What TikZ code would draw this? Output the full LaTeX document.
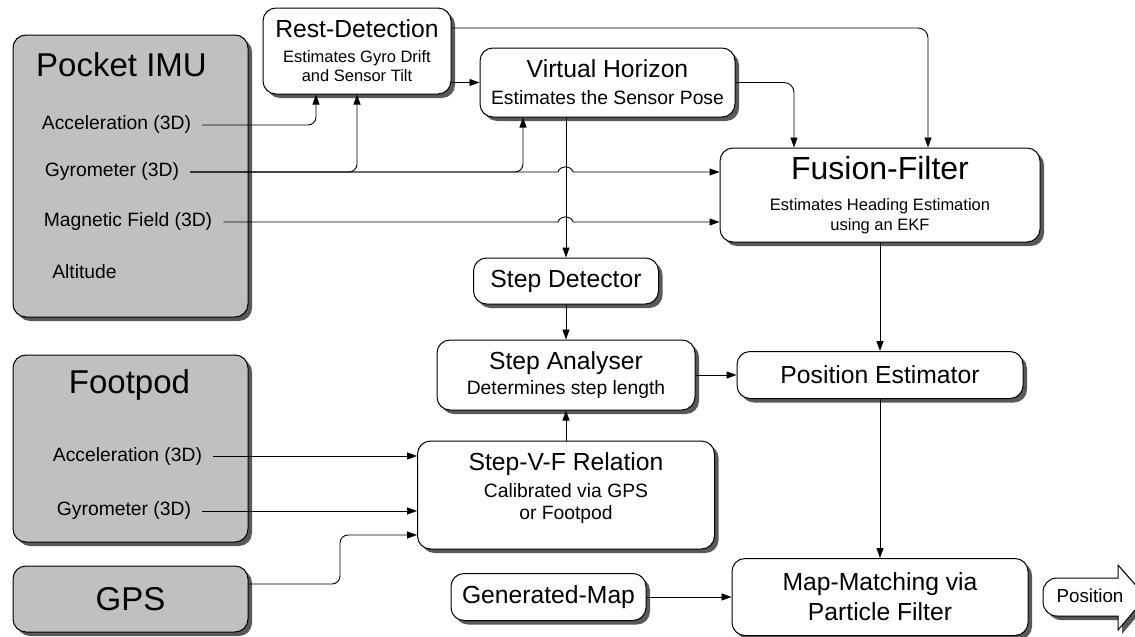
\documentclass[tikz,border=0pt]{standalone}
\usepackage{fontspec}
\setmainfont{Liberation Sans}
\usetikzlibrary{arrows.meta, shadows}

\definecolor{devgray}{RGB}{192,192,192}
\newcommand\fbig{\fontsize{33}{38}\selectfont}
\newcommand\ftitle{\fontsize{24.7}{27}\selectfont}
\newcommand\fsub{\fontsize{19.3}{22}\selectfont}
\newcommand\fsmall{\fontsize{16.5}{19}\selectfont}

\tikzset{
  blk/.style={draw, line width=1pt, rounded corners=13pt, fill=white, align=center, inner sep=0pt,
    drop shadow={shadow xshift=4pt, shadow yshift=-4pt, fill=black!65, opacity=1}},
  dev/.style={blk, fill=devgray},
  lbl/.style={inner xsep=11pt, inner ysep=0pt, font=\fsub},
  arr/.style={-{Triangle[length=10pt,width=7pt]}, line width=0.9pt},
}

\begin{document}
\begin{tikzpicture}[x=1pt, y=-1pt]
\useasboundingbox (0,0) rectangle (1135,637);

% sensors
\node[dev, minimum width=235pt, minimum height=282pt] (imu) at (130.5,176) {};
\node[font=\fbig, inner sep=0pt] (imut) at (121.5,65) {Pocket IMU};
\node[lbl] (a1) at (116.5,125) {Acceleration (3D)};
\node[lbl] (g1) at (112,172) {Gyrometer (3D)};
\node[lbl] (m1) at (128,222) {Magnetic Field (3D)};
\node[lbl] (al) at (84.5,272) {Altitude};

\node[dev, minimum width=235pt, minimum height=187pt] (fp) at (130.5,448.5) {};
\node[font=\fbig, inner sep=0pt] (fpt) at (129.5,385) {Footpod};
\node[lbl] (a2) at (127.5,456) {Acceleration (3D)};
\node[lbl] (g2) at (124,511) {Gyrometer (3D)};

\node[dev, minimum width=235pt, minimum height=66pt, font=\fbig] (gps) at (130.5,599) {GPS};

% processing blocks
\node[blk, minimum width=188pt, minimum height=86pt, font=\fsmall] (rd) at (357,51)
  {{\ftitle Rest-Detection}\\[6pt]Estimates Gyro Drift\\and Sensor Tilt};
\node[blk, minimum width=255pt, minimum height=69pt, font=\fsub] (vh) at (607.5,82.5)
  {{\ftitle Virtual Horizon}\\[5pt]Estimates the Sensor Pose};
\node[blk, minimum width=320pt, minimum height=94pt, font=\fsmall] (ff) at (880,195)
  {{\fontsize{32}{36}\selectfont Fusion-Filter}\\[12pt]Estimates Heading Estimation\\[1pt]using an EKF};
\node[blk, minimum width=185pt, minimum height=46pt, font=\ftitle] (sd) at (566,281) {Step Detector};
\node[blk, minimum width=258pt, minimum height=70pt, font=\fsub] (sa) at (566,375)
  {{\ftitle Step Analyser}\\[3pt]Determines step length};
\node[blk, minimum width=286pt, minimum height=47pt, font=\ftitle] (pe) at (880,375) {Position Estimator};
\node[blk, minimum width=297pt, minimum height=108pt, font=\fsub] (svf) at (566,495)
  {{\ftitle Step-V-F Relation}\\[5pt]Calibrated via GPS\\or Footpod\\[-4pt]~};
\node[blk, minimum width=195pt, minimum height=47pt, font=\ftitle] (gm) at (548.5,597) {Generated-Map};
\node[blk, minimum width=296pt, minimum height=77pt, font=\ftitle] (mm) at (880,597)
  {Map-Matching via\\[3pt]Particle Filter};

% output arrow
\draw[line width=1pt, fill=white, drop shadow={shadow xshift=4pt, shadow yshift=-4pt, fill=black!65, opacity=1}]
  (1118,578) -- (1118,565) -- (1146,597) -- (1118,630) -- (1118,616) -- (1057,616)
  to[out=180,in=270] (1043,602) -- (1043,592) to[out=90,in=180] (1057,578) -- cycle;
\node[font=\fontsize{18.8}{21}\selectfont, inner sep=0pt] (pos) at (1090,596) {Position};

% connections
\draw[arr, rounded corners=8pt] (a1.east) -| ([xshift=-41pt]rd.south);
\draw[arr, rounded corners=8pt] (g1.east) -| (rd.south);
\draw[arr, rounded corners=8pt] (g1.east) -| ([xshift=-84.5pt]vh.south);
\draw[arr] (g1.east) -- (558,172) .. controls (560,165) and (571,165) .. (573,172) -- (g1.east -| ff.west);
\draw[arr] (m1.east) -- (558,222) .. controls (560,215) and (571,215) .. (573,222) -- (m1.east -| ff.west);
\draw[arr] (vh.west -| rd.east) -- (vh.west);
\draw[arr, rounded corners=10pt] ([yshift=23pt]rd.east) -| ([xshift=48pt]ff.north);
\draw[arr, rounded corners=10pt] (vh.east) -| ([xshift=-86pt]ff.north);
\draw[arr] (sd.north |- vh.south) -- (sd.north);
\draw[arr] (sd) -- (sa);
\draw[arr] (svf) -- (sa);
\draw[arr] (sa) -- (pe);
\draw[arr] (ff) -- (pe);
\draw[arr] (pe) -- (mm);
\draw[arr] (gm) -- (mm);
\draw[arr] (a2.east) -- (a2.east -| svf.west);
\draw[arr] (g2.east) -- (g2.east -| svf.west);
\draw[arr, rounded corners=8pt] ([yshift=15pt]gps.east) -| ([xshift=-77pt,yshift=-40pt]svf.west) -- ([yshift=-40pt]svf.west);
\end{tikzpicture}
\end{document}
